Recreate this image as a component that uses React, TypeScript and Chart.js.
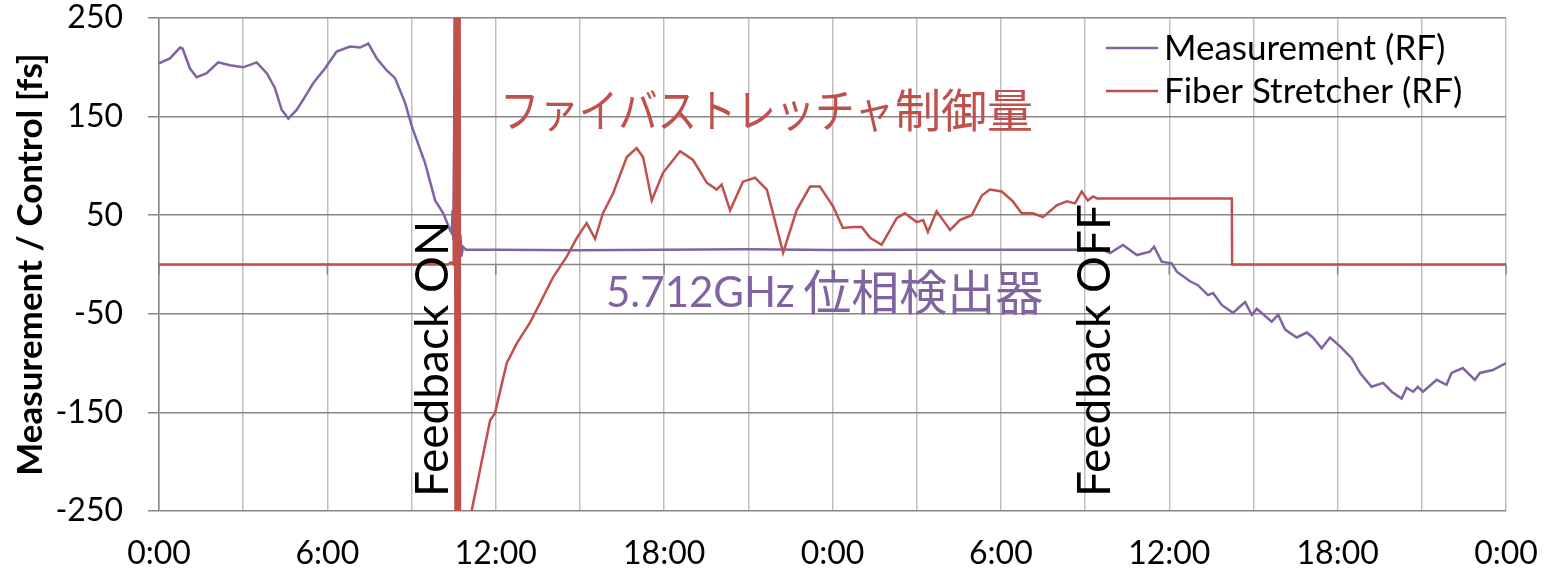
import React, { useEffect, useRef } from "react";
import { Chart, registerables } from "chart.js";

Chart.register(...registerables);

// ---- data (hours since start, values in fs) ----
const measurementHours = [
  0.0, 0.39, 0.75, 0.84, 1.1, 1.34, 1.7, 2.11, 2.53, 3.0, 3.48, 3.84, 4.13, 4.37, 4.61, 4.91, 5.2, 5.5,
  5.92, 6.33, 6.81, 7.16, 7.46, 7.76, 8.11, 8.41, 8.77, 9.01, 9.48, 9.84, 10.13, 10.37, 10.43,
  10.46, 10.49, 10.53, 10.57, 10.6, 10.64, 10.67, 10.71, 10.74, 10.78, 10.83, 10.94,
  12.0, 15.0, 18.0, 21.0, 24.0, 27.0, 30.0, 33.0, 33.28,
  33.53, 33.89, 34.35, 34.85, 35.31, 35.46, 35.73, 36.09, 36.27, 36.74, 37.02, 37.38, 37.56, 37.87,
  38.27, 38.7, 38.94, 39.12, 39.65, 39.88, 40.13, 40.54, 40.9, 41.12, 41.43, 41.73, 42.09, 42.5,
  42.8, 43.21, 43.62, 43.93, 44.28, 44.46, 44.69, 44.86, 45.04, 45.53, 45.88, 46.06, 46.46, 46.89,
  47.07, 47.53, 48.0,
];
const measurementValues = [
  204, 209, 220, 219, 199, 190, 194, 205, 202, 200, 205, 194, 179, 157, 148, 157, 170, 184,
  199, 216, 221, 220, 224, 209, 197, 189, 164, 140, 103, 65, 52, 35, 32,
  55, 25, 157, -30, 50, -33, 40, -5, 30, 8, 18, 15,
  15, 14.5, 15, 15.5, 14.7, 15, 15, 15, 15,
  16.4, 11.7, 19.8, 9.6, 13, 18, 2.9, 1.2, -7.3, -17, -21, -31, -29, -41,
  -49, -38, -51, -45, -58, -51, -66, -74, -69, -74, -85, -74, -83, -95,
  -110, -124, -120, -129, -136, -125, -129, -124, -129, -117, -122, -110, -105, -117,
  -110, -107, -100,
];

const fiberHours = [
  0.0, 10.3, 10.4, 10.5, 10.55, 10.57, 10.59, 10.61, 10.63, 10.65, 10.67, 10.69, 10.71, 10.73,
  11.14, 11.8, 11.97, 12.39, 12.75, 13.22, 13.58, 14.04, 14.53, 14.89, 15.24, 15.54, 15.82, 16.18,
  16.67, 17.02, 17.25, 17.56, 17.96, 18.57, 19.03, 19.52, 19.87, 20.05, 20.35, 20.81, 21.24, 21.66,
  21.88, 22.24, 22.72, 23.2, 23.55, 24.02, 24.37, 24.73, 25.04, 25.34, 25.75, 26.29, 26.58, 27.0,
  27.23, 27.4, 27.71, 27.94, 28.19, 28.54, 28.96, 29.32, 29.61, 30.03, 30.43, 30.74, 31.14, 31.5,
  31.99, 32.35, 32.64, 32.88, 33.1, 33.28, 33.43, 38.23, 38.24, 48.0,
];
const fiberValues = [
  0, 0, 2, 0, 400, -400, 400, -400, 400, -400, 400, -400, 400, -400,
  -250, -158, -151, -100, -80, -59, -39, -13, 8, 27, 42, 26, 52, 72,
  109, 118, 109, 65, 93, 115, 106, 83, 76, 81, 55, 84, 88, 76,
  52, 12, 55, 79, 79, 59, 37, 38, 38, 27, 20, 47, 52, 43,
  45, 33, 54, 45, 35, 45, 50, 70, 76, 74, 64, 52, 52, 48,
  60, 64, 62, 74, 65, 69, 67, 67, 0, 0,
];

const xTickHours = [0, 3, 6, 9, 12, 15, 18, 21, 24, 27, 30, 33, 36, 39, 42, 45, 48];
const yTickValues = [-250, -150, -50, 50, 150, 250];
const seriesNames = ["Measurement (RF)", "Fiber Stretcher (RF)"];
const seriesColors = ["#8064A2", "#C0504D"];
const yAxisTitle = "Measurement / Control [fs]";
const fiberLabelKana = "ファイバストレッチャ";
const fiberLabelKanji = "制御量";
const measLabelLatin = "5.712GHz ";
const measLabelKanji = "位相検出器";
const feedbackOnLabel = "Feedback ON";
const feedbackOffLabel = "Feedback OFF";

const LATIN = "Lato, 'Noto Sans', sans-serif";
const CJK = "'Noto Sans CJK JP', sans-serif";

export default function App() {
  const ref = useRef<HTMLCanvasElement | null>(null);

  useEffect(() => {
    const canvas = ref.current;
    if (!canvas) return;

    const overlay = {
      id: "overlay",
      beforeDatasetsDraw(chart: any) {
        const { ctx, chartArea, scales } = chart;
        const x = scales.x;
        const y = scales.y;
        const y0 = y.getPixelForValue(0);
        ctx.save();
        ctx.strokeStyle = "#868686";
        ctx.lineWidth = 1.5;
        ctx.beginPath();
        ctx.moveTo(chartArea.left, y0);
        ctx.lineTo(chartArea.right, y0);
        for (const h of xTickHours) {
          if (h % 6 === 0) {
            const px = x.getPixelForValue(h);
            ctx.moveTo(px, y0);
            ctx.lineTo(px, y0 + 10);
          }
        }
        ctx.stroke();
        ctx.restore();
      },
      afterDraw(chart: any) {
        const { ctx, chartArea } = chart;
        ctx.save();
        // legend
        ctx.font = `35px ${LATIN}`;
        ctx.textAlign = "left";
        ctx.textBaseline = "middle";
        const lx = chartArea.right - 400;
        seriesNames.forEach((name, i) => {
          const ly = 48 + i * 43;
          ctx.strokeStyle = seriesColors[i];
          ctx.lineWidth = 2.5;
          ctx.beginPath();
          ctx.moveTo(lx, ly);
          ctx.lineTo(lx + 52, ly);
          ctx.stroke();
          ctx.fillStyle = "#000";
          ctx.fillText(name, lx + 58, ly + 1);
        });

        // red annotation
        ctx.fillStyle = seriesColors[1];
        ctx.font = `46px ${CJK}`;
        ctx.fillText(fiberLabelKana, 500, 110, 394);
        ctx.fillText(fiberLabelKanji, 895, 110);

        // purple annotation
        ctx.fillStyle = seriesColors[0];
        ctx.font = `42px ${LATIN}`;
        ctx.fillText(measLabelLatin, 606, 293);
        const w = ctx.measureText(measLabelLatin).width;
        ctx.font = `48px ${CJK}`;
        ctx.fillText(measLabelKanji, 604 + w, 292);

        // feedback labels (rotated)
        ctx.fillStyle = "#000";
        ctx.font = `46px ${LATIN}`;
        ctx.textBaseline = "alphabetic";
        ctx.translate(448, 497);
        ctx.rotate(-Math.PI / 2);
        ctx.fillText(feedbackOnLabel, 0, 0);
        ctx.setTransform(1, 0, 0, 1, 0, 0);
        ctx.translate(1110, 497);
        ctx.rotate(-Math.PI / 2);
        ctx.fillText(feedbackOffLabel, 0, 0);
        ctx.restore();
      },
    };

    const chart = new Chart(canvas, {
      type: "line",
      data: {
        datasets: [
          {
            label: seriesNames[0],
            data: measurementHours.map((h, i) => ({ x: h, y: measurementValues[i] })),
            borderColor: seriesColors[0],
            backgroundColor: seriesColors[0],
            borderWidth: 2.5,
            pointRadius: 0,
            order: 1,
          },
          {
            label: seriesNames[1],
            data: fiberHours.map((h, i) => ({ x: h, y: fiberValues[i] })),
            borderColor: seriesColors[1],
            backgroundColor: seriesColors[1],
            borderWidth: 2.5,
            pointRadius: 0,
            order: 0,
          },
        ],
      },
      options: {
        animation: false,
        responsive: false,
        events: [],
        layout: { padding: { left: 0, right: 45, top: 18, bottom: 0 } },
        plugins: { legend: { display: false }, tooltip: { enabled: false } },
        scales: {
          x: {
            type: "linear",
            min: 0,
            max: 48,
            afterBuildTicks: (s: any) => {
              s.ticks = xTickHours.map((v) => ({ value: v }));
            },
            afterFit: (s: any) => {
              s.height = 65;
              s.paddingLeft = 0;
              s.paddingRight = 0;
            },
            ticks: {
              autoSkip: false,
              maxRotation: 0,
              padding: 23,
              color: "#000",
              font: { family: LATIN, size: 32 },
              callback: (v: any) => (Number(v) % 6 === 0 ? `${Number(v) % 24}:00` : ""),
            },
            grid: { color: "#BFBFBF", lineWidth: 1.5, drawTicks: false },
            border: { display: false },
          },
          y: {
            min: -250,
            max: 250,
            afterBuildTicks: (s: any) => {
              s.ticks = yTickValues.map((v) => ({ value: v }));
            },
            afterFit: (s: any) => {
              s.width = 159;
              s.paddingTop = 0;
              s.paddingBottom = 0;
            },
            ticks: {
              padding: 25,
              color: "#000",
              font: { family: LATIN, size: 32 },
            },
            grid: { color: "#868686", lineWidth: 1.5, tickLength: 11 },
            border: { display: true, color: "#868686", width: 1.5 },
            title: {
              display: true,
              text: yAxisTitle,
              color: "#000",
              font: { family: LATIN, size: 35, weight: "bold" },
              padding: { top: 10, bottom: 0 },
            },
          },
        },
      },
      plugins: [overlay],
    });

    return () => chart.destroy();
  }, []);

  return (
    <div style={{ position: "fixed", left: 0, top: 0, width: 1551, height: 576, background: "#fff" }}>
      <canvas ref={ref} width={1551} height={576} style={{ display: "block" }} />
    </div>
  );
}
